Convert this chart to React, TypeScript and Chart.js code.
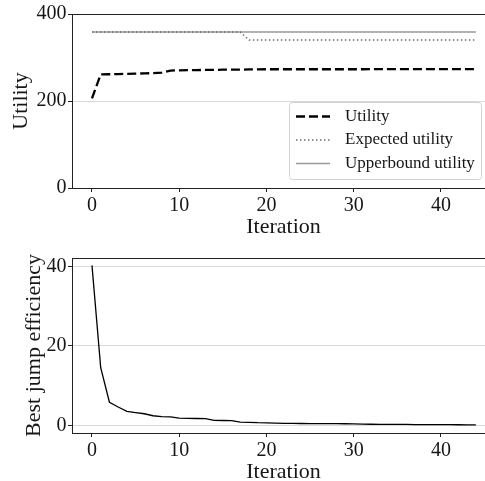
import { useEffect, useRef } from "react";
import { Chart, registerables } from "chart.js";

Chart.register(...registerables);

// Iteration index shared by both panels
const iterations = [
  0, 1, 2, 3, 4, 5, 6, 7, 8, 9, 10, 11, 12, 13, 14, 15, 16, 17, 18, 19, 20, 21,
  22, 23, 24, 25, 26, 27, 28, 29, 30, 31, 32, 33, 34, 35, 36, 37, 38, 39, 40, 41,
  42, 43, 44,
];

// Upper panel series
const utility = [
  206, 261, 261.5, 262, 262.5, 263, 263.5, 264, 265, 270, 270.5, 271, 271, 271.5,
  271.5, 272, 272, 272, 272.5, 272.5, 273, 273, 273, 273, 273, 273, 273, 273, 273,
  273, 273, 273, 273.5, 273.5, 273.5, 273.5, 273.5, 273.5, 273.5, 273.5, 273.5,
  273.5, 273.5, 273.5, 273.5,
];
const expectedUtility = [
  358.5, 358.5, 358.5, 358.5, 358.5, 358.5, 358.5, 358.5, 358.5, 358.5, 358.5,
  358.5, 358.5, 358.5, 358.5, 358.5, 358.5, 358.5, 340, 340, 340, 340, 340, 340,
  340, 340, 340, 340, 340, 340, 340, 340, 340, 340, 340, 340, 340, 340, 340, 340,
  340, 340, 340, 340, 340,
];
const upperboundUtility = [
  358.5, 358.5, 358.5, 358.5, 358.5, 358.5, 358.5, 358.5, 358.5, 358.5, 358.5,
  358.5, 358.5, 358.5, 358.5, 358.5, 358.5, 358.5, 358.5, 358.5, 358.5, 358.5,
  358.5, 358.5, 358.5, 358.5, 358.5, 358.5, 358.5, 358.5, 358.5, 358.5, 358.5,
  358.5, 358.5, 358.5, 358.5, 358.5, 358.5, 358.5, 358.5, 358.5, 358.5, 358.5,
  358.5,
];

// Lower panel series
const jumpEfficiency = [
  40.3, 14.5, 5.8, 4.6, 3.5, 3.2, 2.9, 2.4, 2.2, 2.1, 1.8, 1.75, 1.7, 1.65, 1.25,
  1.2, 1.15, 0.8, 0.75, 0.65, 0.6, 0.55, 0.5, 0.48, 0.45, 0.43, 0.42, 0.4, 0.4,
  0.38, 0.35, 0.3, 0.25, 0.22, 0.2, 0.2, 0.2, 0.18, 0.18, 0.17, 0.16, 0.15, 0.13,
  0.1, 0.08,
];

const iterationTicks = [0, 10, 20, 30, 40];
const utilityTicks = [0, 200, 400];
const efficiencyTicks = [0, 20, 40];

const SERIF = "'Liberation Serif', 'Times New Roman', serif";
const INK = "#161616";
const SPINE = "#222222";
const GRID = "#d9d9d9";

// The plot frame runs a little past the visible page on the right
const CANVAS_W = 495;

const toPoints = (ys: number[]) => iterations.map((x, i) => ({ x, y: ys[i] }));

// Closes the frame along the top edge of the plot area
const topSpinePlugin = {
  id: "topSpine",
  afterDatasetsDraw(chart: any) {
    const { ctx, chartArea } = chart;
    const y = Math.round(chartArea.top) + 0.5;
    ctx.save();
    ctx.strokeStyle = SPINE;
    ctx.lineWidth = 1;
    ctx.beginPath();
    ctx.moveTo(chartArea.left, y);
    ctx.lineTo(chartArea.right, y);
    ctx.stroke();
    ctx.restore();
  },
};

// Framed legend sitting in the lower-right corner of the plot area
const boxLegendPlugin = {
  id: "boxLegend",
  afterDraw(chart: any, _args: any, opts: any) {
    if (!opts || !opts.show) return;
    const { ctx, chartArea } = chart;
    const w = 192;
    const h = 77;
    const x = Math.round(chartArea.right - 206);
    const y = Math.round(chartArea.bottom - 86);
    ctx.save();
    ctx.beginPath();
    ctx.roundRect(x + 0.5, y + 0.5, w, h, 3);
    ctx.fillStyle = "rgba(255,255,255,0.8)";
    ctx.fill();
    ctx.strokeStyle = "#d2d2d2";
    ctx.lineWidth = 1;
    ctx.stroke();
    ctx.font = `17px ${SERIF}`;
    ctx.textBaseline = "middle";
    ctx.textAlign = "left";
    chart.data.datasets.forEach((ds: any, i: number) => {
      const cy = y + 14.5 + i * 23.5;
      ctx.save();
      ctx.strokeStyle = ds.borderColor;
      ctx.lineWidth = ds.borderWidth;
      ctx.setLineDash(ds.borderDash || []);
      ctx.beginPath();
      ctx.moveTo(x + 7, cy);
      ctx.lineTo(x + 41, cy);
      ctx.stroke();
      ctx.restore();
      ctx.fillStyle = INK;
      ctx.fillText(ds.label, x + 56, cy);
    });
    ctx.restore();
  },
};

interface PanelSpec {
  datasets: any[];
  yMin: number;
  yMax: number;
  yTicks: number[];
  yTitle: string;
  yTitlePad: number;
  xTitlePad: number;
  xAxisHeight: number;
  padTop: number;
  legend: boolean;
}

function makePanel(canvas: HTMLCanvasElement, spec: PanelSpec) {
  const tickFont = { family: SERIF, size: 20 };
  const titleFont = { family: SERIF, size: 22 };
  return new Chart(canvas, {
    type: "line",
    data: { datasets: spec.datasets },
    plugins: [topSpinePlugin, boxLegendPlugin],
    options: {
      animation: false,
      responsive: false,
      devicePixelRatio: 1,
      events: [],
      layout: { padding: { top: spec.padTop, left: 0, right: 0, bottom: 0 } },
      elements: { point: { radius: 0 }, line: { tension: 0 } },
      plugins: {
        legend: { display: false },
        tooltip: { enabled: false },
        boxLegend: { show: spec.legend },
      } as any,
      scales: {
        x: {
          type: "linear",
          min: -2.29,
          max: 46.19,
          afterBuildTicks: (s: any) => {
            s.ticks = iterationTicks.map((value) => ({ value }));
          },
          afterFit: (s: any) => {
            s.height = spec.xAxisHeight;
          },
          grid: {
            drawOnChartArea: false,
            drawTicks: true,
            tickLength: 4,
            tickColor: SPINE,
            tickWidth: 1,
          },
          border: { display: true, color: SPINE, width: 1 },
          ticks: {
            font: tickFont,
            color: INK,
            padding: 1.5,
            maxRotation: 0,
            autoSkip: false,
          },
          title: {
            display: true,
            text: "Iteration",
            font: titleFont,
            color: INK,
            padding: { top: 0, bottom: spec.xTitlePad },
          },
        },
        y: {
          type: "linear",
          min: spec.yMin,
          max: spec.yMax,
          afterBuildTicks: (s: any) => {
            s.ticks = spec.yTicks.map((value) => ({ value }));
          },
          afterFit: (s: any) => {
            s.width = 72;
          },
          grid: {
            color: GRID,
            lineWidth: 1,
            drawTicks: true,
            tickLength: 4,
            tickColor: SPINE,
            tickWidth: 1,
          },
          border: { display: true, color: SPINE, width: 1 },
          ticks: { font: tickFont, color: INK, padding: 1.5 },
          title: {
            display: true,
            text: spec.yTitle,
            font: titleFont,
            color: INK,
            padding: { top: spec.yTitlePad, bottom: 0 },
          },
        },
      },
    } as any,
  });
}

export default function App() {
  const topRef = useRef<HTMLCanvasElement>(null);
  const bottomRef = useRef<HTMLCanvasElement>(null);

  useEffect(() => {
    if (!topRef.current || !bottomRef.current) return;
    const upper = makePanel(topRef.current, {
      datasets: [
        {
          label: "Utility",
          data: toPoints(utility),
          borderColor: "#000000",
          borderWidth: 2.3,
          borderDash: [9, 4],
          fill: false,
        },
        {
          label: "Expected utility",
          data: toPoints(expectedUtility),
          borderColor: "#6e6e6e",
          borderWidth: 1.5,
          borderDash: [1.5, 2.5],
          fill: false,
        },
        {
          label: "Upperbound utility",
          data: toPoints(upperboundUtility),
          borderColor: "#9a9a9a",
          borderWidth: 1.5,
          fill: false,
        },
      ],
      yMin: 0,
      yMax: 400,
      yTicks: utilityTicks,
      yTitle: "Utility",
      yTitlePad: 8,
      xTitlePad: 0,
      xAxisHeight: 52,
      padTop: 14,
      legend: true,
    });
    const lower = makePanel(bottomRef.current, {
      datasets: [
        {
          label: "Best jump efficiency",
          data: toPoints(jumpEfficiency),
          borderColor: "#000000",
          borderWidth: 1.3,
          fill: false,
        },
      ],
      yMin: -1.95,
      yMax: 42.15,
      yTicks: efficiencyTicks,
      yTitle: "Best jump efficiency",
      yTitlePad: 21,
      xTitlePad: 4.6,
      xAxisHeight: 57,
      padTop: 18,
      legend: false,
    });
    return () => {
      upper.destroy();
      lower.destroy();
    };
  }, []);

  return (
    <div
      style={{
        position: "fixed",
        left: 0,
        top: 0,
        width: 485,
        height: 481,
        background: "#ffffff",
        overflow: "hidden",
      }}
    >
      <canvas
        ref={topRef}
        width={CANVAS_W}
        height={240}
        style={{ display: "block", width: CANVAS_W, height: 240 }}
      />
      <canvas
        ref={bottomRef}
        width={CANVAS_W}
        height={250}
        style={{ display: "block", width: CANVAS_W, height: 250 }}
      />
    </div>
  );
}
